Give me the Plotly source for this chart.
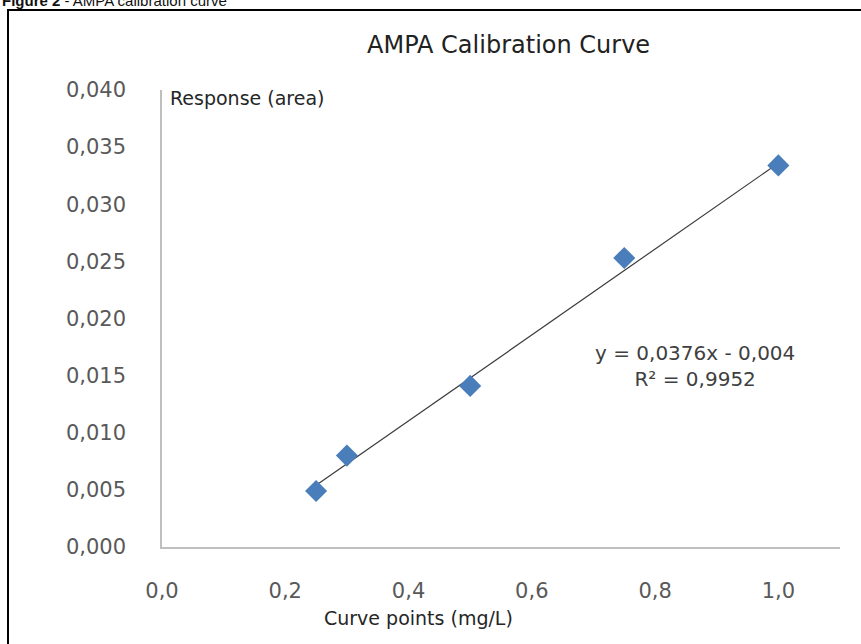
import plotly.graph_objects as go

# Data
conc = [0.25, 0.30, 0.50, 0.75, 1.00]
response = [0.0049, 0.0080, 0.0141, 0.0253, 0.0334]
slope = 0.0376
intercept = -0.004
r2 = 0.9952
x_ticks = [0.0, 0.2, 0.4, 0.6, 0.8, 1.0]
y_ticks = [0.000, 0.005, 0.010, 0.015, 0.020, 0.025, 0.030, 0.035, 0.040]

W, H = 861, 644
L, R, T, B = 162, 21, 90, 97
pw, ph = W - L - R, H - T - B

def px(xp):
    return (xp - L) / pw

def py(yp):
    return (H - B - yp) / ph

trend_x = [min(conc), max(conc)]
trend_y = [slope * v + intercept for v in trend_x]

FONT = "DejaVu Sans"

fig = go.Figure()
fig.add_trace(go.Scatter(x=trend_x, y=trend_y, mode="lines",
                         line=dict(color="#3a3a3a", width=1.2),
                         hoverinfo="skip", showlegend=False))
fig.add_trace(go.Scatter(x=conc, y=response, mode="markers",
                         marker=dict(symbol="diamond", size=17, color="#4a7ebb"),
                         showlegend=False))

tickfont = dict(family=FONT, size=21, color="#595959")
fig.update_layout(
    width=W, height=H,
    margin=dict(l=L, r=R, t=T, b=B),
    paper_bgcolor="white", plot_bgcolor="white",
    separators=",.",
    showlegend=False,
    xaxis=dict(range=[0, 1.1], tickvals=x_ticks, tickformat=".1f",
               showgrid=False, zeroline=False, showline=True,
               linecolor="#bfbfbf", linewidth=1.5, ticks="",
               tickfont=tickfont, ticklabelstandoff=24),
    yaxis=dict(range=[0, 0.04], tickvals=y_ticks, tickformat=".3f",
               showgrid=False, zeroline=False, showline=True,
               linecolor="#bfbfbf", linewidth=1.5, ticks="",
               tickfont=tickfont, ticklabelstandoff=30),
)

fig.add_shape(type="rect", xref="paper", yref="paper",
              x0=px(8), x1=px(875), y0=py(660), y1=py(10),
              line=dict(color="black", width=2), fillcolor="rgba(0,0,0,0)")

fig.add_annotation(xref="paper", yref="paper", x=px(508), y=py(45),
                   text="AMPA Calibration Curve", showarrow=False,
                   font=dict(family=FONT, size=24, color="#222222"),
                   xanchor="center", yanchor="middle")
fig.add_annotation(xref="paper", yref="paper", x=px(0), y=py(0),
                   text="<b>Figure 2</b> - AMPA calibration curve", showarrow=False,
                   font=dict(family="Liberation Sans", size=15, color="#111111"),
                   xanchor="left", yanchor="middle")
fig.add_annotation(xref="paper", yref="paper", x=px(168), y=py(98),
                   text="Response (area)", showarrow=False,
                   font=dict(family=FONT, size=19, color="#262626"),
                   xanchor="left", yanchor="middle")
fig.add_annotation(xref="paper", yref="paper", x=px(418), y=py(618),
                   text="Curve points (mg/L)", showarrow=False,
                   font=dict(family=FONT, size=19, color="#262626"),
                   xanchor="center", yanchor="middle")
eq_text = ("y = " + f"{slope:.4f}".replace(".", ",") + "x - " +
           f"{abs(intercept):.3f}".replace(".", ",") +
           "<br>R² = " + f"{r2:.4f}".replace(".", ","))
fig.add_annotation(xref="paper", yref="paper", x=px(695), y=py(366),
                   text=eq_text, showarrow=False, align="center",
                   font=dict(family=FONT, size=20, color="#404040"),
                   xanchor="center", yanchor="middle")

fig.write_html("out.html", config={"displayModeBar": False},
               post_script="document.body.style.margin='0';")
